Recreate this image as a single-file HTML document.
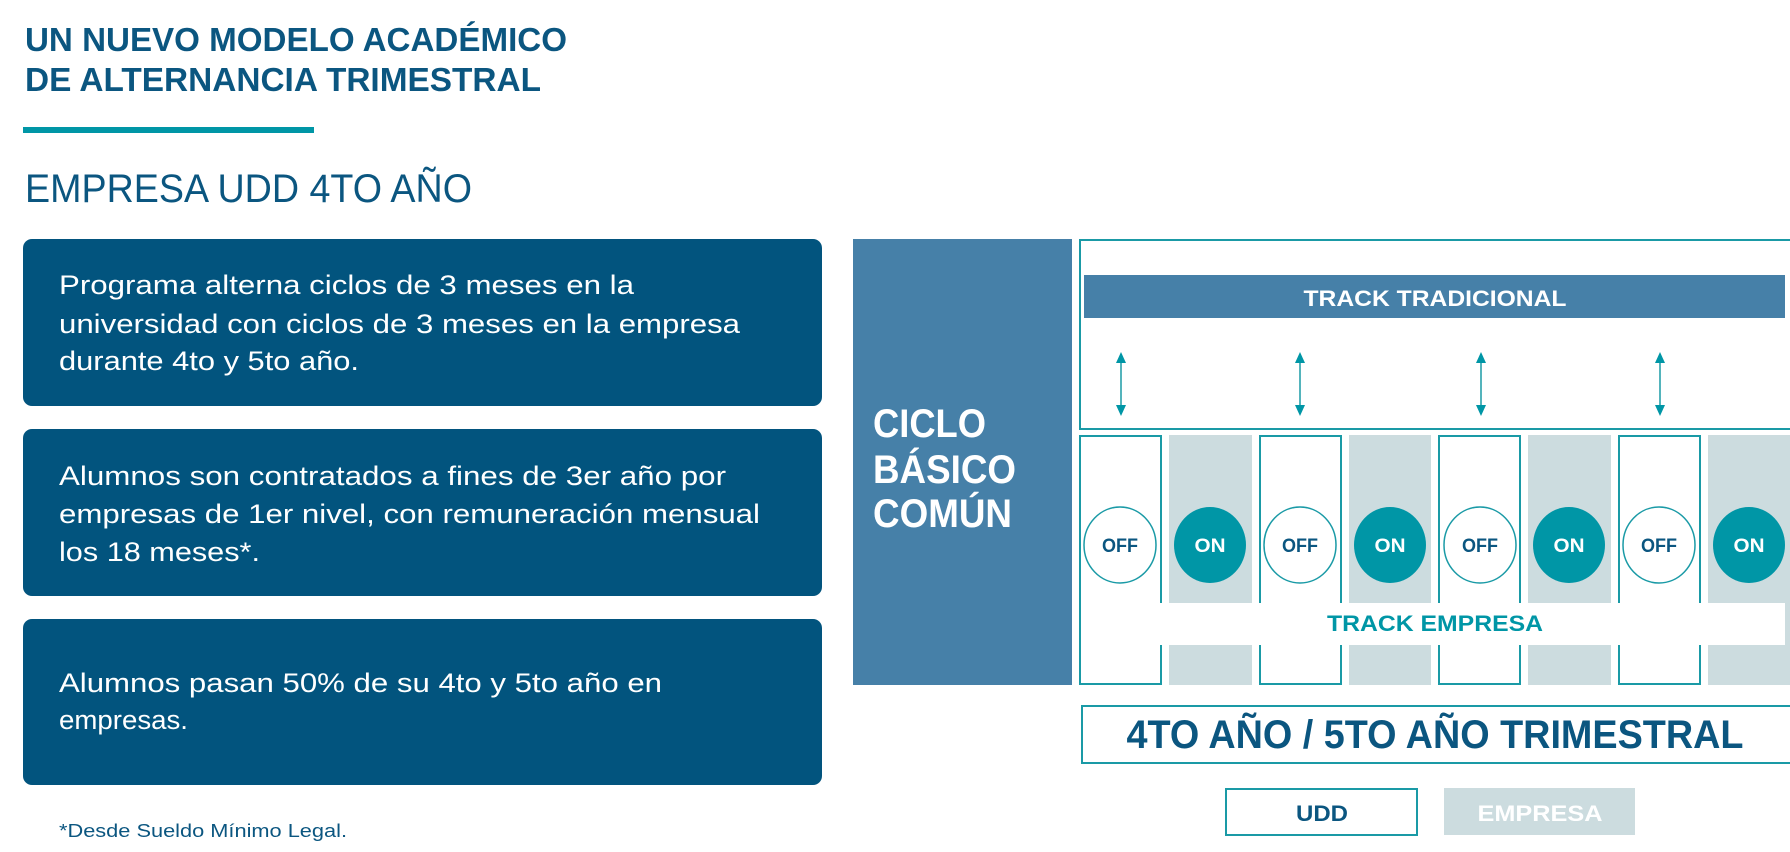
<!DOCTYPE html>
<html><head><meta charset="utf-8"><style>html,body{margin:0;padding:0;background:#fff}svg{display:block}</style></head>
<body>
<svg width="1790" height="852" viewBox="0 0 1790 852" xmlns="http://www.w3.org/2000/svg" font-family="Liberation Sans, Arial, sans-serif">
<g fill="#0b5680" font-weight="bold" font-size="33">
<text x="25" y="51" textLength="542" lengthAdjust="spacingAndGlyphs">UN NUEVO MODELO ACADÉMICO</text>
<text x="25" y="91" textLength="516" lengthAdjust="spacingAndGlyphs">DE ALTERNANCIA TRIMESTRAL</text>
</g>
<rect x="23" y="127" width="291" height="6" fill="#0096a6"/>
<text x="25" y="202" fill="#0b5680" font-size="40" textLength="447" lengthAdjust="spacingAndGlyphs">EMPRESA UDD 4TO AÑO</text>

<rect x="23" y="239" width="799" height="167" rx="9" fill="#02547e"/>
<rect x="23" y="429" width="799" height="167" rx="9" fill="#02547e"/>
<rect x="23" y="619" width="799" height="166" rx="9" fill="#02547e"/>
<g fill="#fff" font-size="27">
<text x="59" y="294" textLength="575" lengthAdjust="spacingAndGlyphs">Programa alterna ciclos de 3 meses en la</text>
<text x="59" y="333" textLength="681" lengthAdjust="spacingAndGlyphs">universidad con ciclos de 3 meses en la empresa</text>
<text x="59" y="370" textLength="300" lengthAdjust="spacingAndGlyphs">durante 4to y 5to año.</text>
<text x="59" y="485" textLength="667" lengthAdjust="spacingAndGlyphs">Alumnos son contratados a fines de 3er año por</text>
<text x="59" y="523" textLength="701" lengthAdjust="spacingAndGlyphs">empresas de 1er nivel, con remuneración mensual</text>
<text x="59" y="561" textLength="201" lengthAdjust="spacingAndGlyphs">los 18 meses*.</text>
<text x="59" y="692" textLength="603" lengthAdjust="spacingAndGlyphs">Alumnos pasan 50% de su 4to y 5to año en</text>
<text x="59" y="729" textLength="129" lengthAdjust="spacingAndGlyphs">empresas.</text>
</g>
<text x="59" y="837" fill="#0b5680" font-size="18" textLength="288" lengthAdjust="spacingAndGlyphs">*Desde Sueldo Mínimo Legal.</text>

<!-- CICLO box -->
<rect x="853" y="239" width="219" height="446" fill="#4680a8"/>
<g fill="#fff" font-weight="bold" font-size="40">
<text x="873" y="437" textLength="113" lengthAdjust="spacingAndGlyphs">CICLO</text>
<text x="873" y="483" textLength="143" lengthAdjust="spacingAndGlyphs">BÁSICO</text>
<text x="873" y="527" textLength="139" lengthAdjust="spacingAndGlyphs">COMÚN</text>
</g>

<!-- top box -->
<rect x="1080" y="240" width="715" height="189" fill="#fff" stroke="#1a9aa6" stroke-width="2"/>
<rect x="1084" y="275" width="701" height="43" fill="#4680a8"/>
<text x="1435" y="306" text-anchor="middle" fill="#fff" font-weight="bold" font-size="22" textLength="263" lengthAdjust="spacingAndGlyphs">TRACK TRADICIONAL</text>
<g stroke="#1a9aa6" stroke-width="1.5" fill="#0096a6">
<line x1="1121" y1="360" x2="1121" y2="408"/><line x1="1300" y1="360" x2="1300" y2="408"/><line x1="1481" y1="360" x2="1481" y2="408"/><line x1="1660" y1="360" x2="1660" y2="408"/>
</g>
<g fill="#0096a6">
<path d="M1121 352 l-5 11 h10z M1121 416 l-5 -11 h10z"/>
<path d="M1300 352 l-5 11 h10z M1300 416 l-5 -11 h10z"/>
<path d="M1481 352 l-5 11 h10z M1481 416 l-5 -11 h10z"/>
<path d="M1660 352 l-5 11 h10z M1660 416 l-5 -11 h10z"/>
</g>

<!-- columns -->
<g fill="#fff" stroke="#1a9aa6" stroke-width="2">
<rect x="1080" y="436" width="81" height="248"/>
<rect x="1260" y="436" width="81" height="248"/>
<rect x="1439" y="436" width="81" height="248"/>
<rect x="1619" y="436" width="81" height="248"/>
</g>
<g fill="#ccdcdf">
<rect x="1169" y="435" width="83" height="250"/>
<rect x="1349" y="435" width="82" height="250"/>
<rect x="1528" y="435" width="83" height="250"/>
<rect x="1708" y="435" width="82" height="250"/>
</g>
<rect x="1160" y="603" width="625" height="42" fill="#fff"/>
<text x="1435" y="631" text-anchor="middle" fill="#0096a6" font-weight="bold" font-size="22" textLength="216" lengthAdjust="spacingAndGlyphs">TRACK EMPRESA</text>
<g fill="#fff" stroke="#1a9aa6" stroke-width="1.5">
<ellipse cx="1120" cy="545" rx="36" ry="38"/><ellipse cx="1300" cy="545" rx="36" ry="38"/><ellipse cx="1480" cy="545" rx="36" ry="38"/><ellipse cx="1659" cy="545" rx="36" ry="38"/>
</g>
<g fill="#0096a6">
<ellipse cx="1210" cy="545" rx="36" ry="38"/><ellipse cx="1390" cy="545" rx="36" ry="38"/><ellipse cx="1569" cy="545" rx="36" ry="38"/><ellipse cx="1749" cy="545" rx="36" ry="38"/>
</g>
<g font-weight="bold" font-size="19" text-anchor="middle">
<g fill="#0b5680">
<text x="1120" y="552" textLength="36" lengthAdjust="spacingAndGlyphs">OFF</text>
<text x="1300" y="552" textLength="36" lengthAdjust="spacingAndGlyphs">OFF</text>
<text x="1480" y="552" textLength="36" lengthAdjust="spacingAndGlyphs">OFF</text>
<text x="1659" y="552" textLength="36" lengthAdjust="spacingAndGlyphs">OFF</text>
</g>
<g fill="#fff">
<text x="1210" y="552" textLength="31" lengthAdjust="spacingAndGlyphs">ON</text>
<text x="1390" y="552" textLength="31" lengthAdjust="spacingAndGlyphs">ON</text>
<text x="1569" y="552" textLength="31" lengthAdjust="spacingAndGlyphs">ON</text>
<text x="1749" y="552" textLength="31" lengthAdjust="spacingAndGlyphs">ON</text>
</g>
</g>

<!-- bottom -->
<rect x="1082" y="706" width="715" height="57" fill="#fff" stroke="#1a9aa6" stroke-width="2"/>
<text x="1435" y="748" text-anchor="middle" fill="#0b5680" font-weight="bold" font-size="40" textLength="617" lengthAdjust="spacingAndGlyphs">4TO AÑO / 5TO AÑO TRIMESTRAL</text>
<rect x="1226" y="789" width="191" height="46" fill="#fff" stroke="#1a9aa6" stroke-width="2"/>
<rect x="1444" y="788" width="191" height="47" fill="#ccdcdf"/>
<text x="1322" y="821" text-anchor="middle" fill="#0b5680" font-weight="bold" font-size="22" textLength="52" lengthAdjust="spacingAndGlyphs">UDD</text>
<text x="1540" y="821" text-anchor="middle" fill="#fff" font-weight="bold" font-size="22" textLength="125" lengthAdjust="spacingAndGlyphs">EMPRESA</text>
</svg>
</body></html>
